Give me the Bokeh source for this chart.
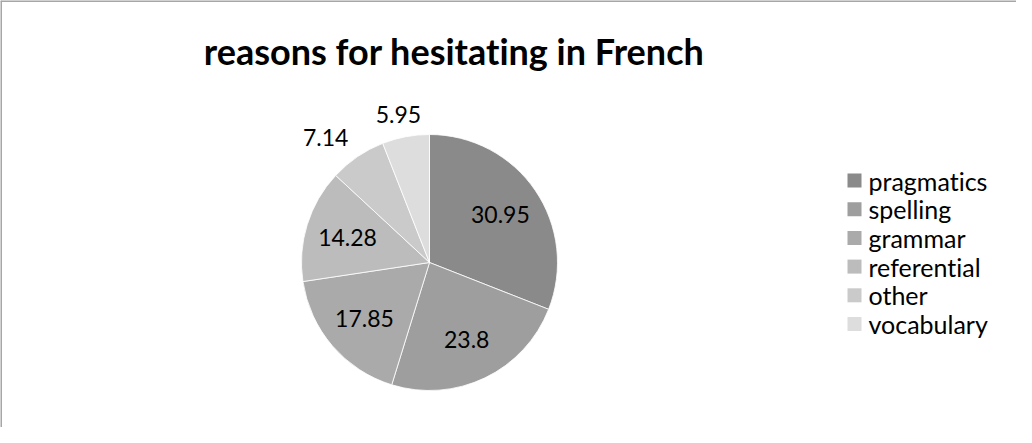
import numpy as np
from bokeh.plotting import figure
from bokeh.models import Range1d, Span, Label, ColumnDataSource
from bokeh.core.properties import value
from bokeh.embed import file_html
from bokeh.resources import INLINE

title = "reasons for hesitating in French"
categories = ["pragmatics", "spelling", "grammar", "referential", "other", "vocabulary"]
values = [30.95, 23.8, 17.85, 14.28, 7.14, 5.95]
labels = ["30.95", "23.8", "17.85", "14.28", "7.14", "5.95"]
colors = ["#8a8a8a", "#9e9e9e", "#aaaaaa", "#bcbcbc", "#cacaca", "#dddddd"]

W, H = 1016, 427
FONT = "Lato"

p = figure(width=W, height=H, output_backend="svg", toolbar_location=None,
           x_range=Range1d(0, W), y_range=Range1d(0, H),
           x_axis_type=None, y_axis_type=None, min_border=0)
p.grid.visible = False
p.outline_line_color = None
p.background_fill_color = "white"
p.border_fill_color = "white"
p.styles = {"font-variant-ligatures": "none", "font-feature-settings": "\"liga\" 0, \"clig\" 0, \"calt\" 0"}

# pie geometry
cx, cy, R = 429, 165, 128
vals = np.array(values)
frac = vals / vals.sum()
cum = np.concatenate([[0], np.cumsum(frac)])
start = np.pi / 2 - cum[:-1] * 2 * np.pi
end = np.pi / 2 - cum[1:] * 2 * np.pi
mid = (cum[:-1] + cum[1:]) / 2 * 2 * np.pi  # clockwise from top

wsrc = ColumnDataSource(dict(start=start, end=end, color=colors, cat=categories))
p.wedge(x=cx, y=cy, radius=R, start_angle="start", end_angle="end",
        direction="clock", fill_color="color", line_color="white",
        line_width=0.8, source=wsrc)

# data labels
lx, ly, la = [], [], []
for i in range(len(vals)):
    if vals[i] > 10:
        rr = 0.67 * R
        align = "center"
    else:
        rr = 1.18 * R
        align = "right" if np.sin(mid[i]) < -0.5 else "center"
    off = 4 if align == "right" else -3
    lx.append(cx + rr * np.sin(mid[i]) + (off if vals[i] <= 10 else 0))
    ly.append(cy + rr * np.cos(mid[i]))
    la.append(align)
lsrc = ColumnDataSource(dict(x=lx, y=ly, t=labels, a=la))
p.text(x="x", y="y", text="t", text_align="a", text_baseline="middle",
       text_font=value(FONT), text_font_size="23px", text_color="#000000",
       source=lsrc)

# title
p.add_layout(Label(x=454, y=H - 50, text=title, text_align="center",
                   text_baseline="middle", text_font=FONT,
                   text_font_size="36px", text_font_style="bold",
                   text_color="#000000"))

# legend (drawn from the category / colour arrays)
leg_x, leg_top, pitch, sq = 854, H - 180, 28.7, 14
ys = [leg_top - i * pitch for i in range(len(categories))]
gsrc = ColumnDataSource(dict(y=ys, color=colors, cat=categories))
p.rect(x=leg_x, y="y", width=sq, height=sq, fill_color="color",
       line_color=None, source=gsrc)
p.text(x=leg_x + 14, y="y", text="cat", text_align="left", text_baseline="middle",
       text_font=value(FONT), text_font_size="25px", text_color="#000000",
       source=gsrc)

# chart area border (top and left edges visible)
p.add_layout(Span(location=H - 0.5, dimension="width", line_color="#a6a6a6", line_width=2))
p.add_layout(Span(location=0.5, dimension="height", line_color="#a6a6a6", line_width=2))

open("out.html", "w").write(file_html(p, INLINE))
